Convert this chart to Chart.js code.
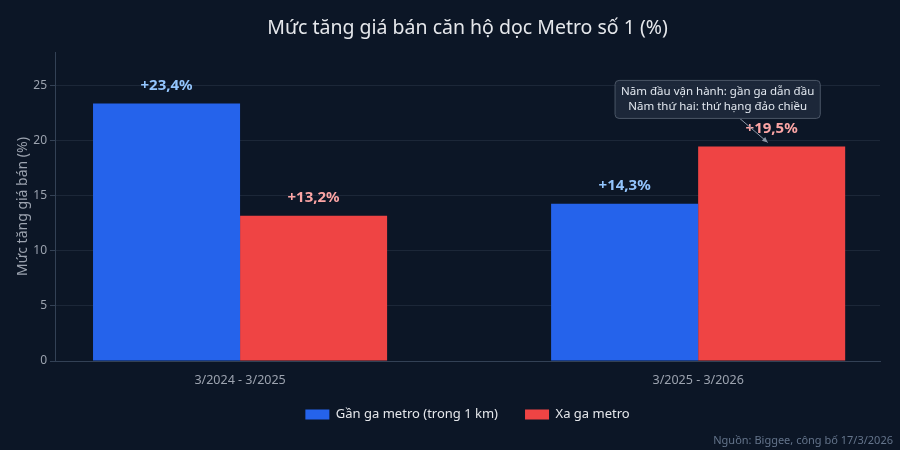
<!DOCTYPE html>
<html lang="vi">
<head>
<meta charset="utf-8">
<title>Mức tăng giá bán căn hộ dọc Metro số 1</title>
<script src="https://cdn.jsdelivr.net/npm/chart.js@4.4.1/dist/chart.umd.min.js"></script>
<style>
  html, body { margin: 0; padding: 0; background: #0c1626; }
  #wrap { width: 900px; height: 450px; position: relative; }
</style>
</head>
<body>
<div id="wrap"><canvas id="chart"></canvas></div>
<script>
// ===== dữ liệu =====
const categories = ['3/2024 - 3/2025', '3/2025 - 3/2026'];
const nearValues = [23.4, 14.3];
const farValues = [13.2, 19.5];
const seriesNames = ['Gần ga metro (trong 1 km)', 'Xa ga metro'];
const yTicks = [0, 5, 10, 15, 20, 25];
const yMax = 28.08;

const titleText = 'Mức tăng giá bán căn hộ dọc Metro số 1 (%)';
const yTitle = 'Mức tăng giá bán (%)';
const sourceText = 'Nguồn: Biggee, công bố 17/3/2026';
const noteLines = ['Năm đầu vận hành: gần ga dẫn đầu', 'Năm thứ hai: thứ hạng đảo chiều'];

const FONT = '"Noto Sans", "Open Sans", sans-serif';
const blue = '#2563eb', red = '#ef4444';
const labelColors = ['#93c5fd', '#fca5a5'];

function fmt(v) {
    return '+' + v.toFixed(1).replace('.', ',') + '%';
}

// tiêu đề, nhãn giá trị, ghi chú, nguồn
const decorPlugin = {
    id: 'decor',
    afterLayout(chart) {
        // căn legend theo vùng vẽ như bản gốc
        const lg = chart.legend;
        const a = chart.chartArea;
        const shift = (a.left + a.right) / 2 - (lg.left + lg.right) / 2;
        lg.left += shift;
        lg.right += shift;
        const h = lg.bottom - lg.top;
        lg.top = 381;
        lg.bottom = lg.top + h;
    },
    afterDatasetsDraw(chart) {
        const ctx = chart.ctx;
        const a = chart.chartArea;
        ctx.save();

        // tiêu đề
        ctx.fillStyle = '#e5e7eb';
        ctx.font = '19.5px ' + FONT;
        ctx.textAlign = 'center';
        ctx.textBaseline = 'middle';
        ctx.fillText(titleText, (a.left + a.right) / 2, 28);

        // nhãn giá trị
        ctx.font = 'bold 15px ' + FONT;
        chart.data.datasets.forEach((ds, i) => {
            const meta = chart.getDatasetMeta(i);
            ctx.fillStyle = labelColors[i];
            meta.data.forEach((el, j) => {
                ctx.fillText(fmt(ds.data[j].y), el.x, el.y - 18);
            });
        });

        // ghi chú có mũi tên
        const target = chart.getDatasetMeta(1).data[1];
        const tipX = target.x - 4, tipY = target.y - 4;
        const cx = target.x - 54, cy = target.y - 47;
        ctx.font = '11.5px ' + FONT;
        const w = Math.max(...noteLines.map(t => ctx.measureText(t).width)) + 12;
        const hgt = 38;
        const bx = cx - w / 2, by = cy - hgt / 2;

        // mũi tên từ mép hộp tới cột
        const ty = by + hgt;
        const tx = cx + (tipX - cx) * ((ty - cy) / (tipY - cy));
        ctx.strokeStyle = '#8b95a5';
        ctx.lineWidth = 1;
        ctx.beginPath();
        ctx.moveTo(tx, ty);
        ctx.lineTo(tipX, tipY);
        ctx.stroke();
        const ang = Math.atan2(tipY - ty, tipX - tx);
        ctx.fillStyle = '#8b95a5';
        ctx.beginPath();
        ctx.moveTo(tipX, tipY);
        ctx.lineTo(tipX - 6 * Math.cos(ang - 0.45), tipY - 6 * Math.sin(ang - 0.45));
        ctx.lineTo(tipX - 6 * Math.cos(ang + 0.45), tipY - 6 * Math.sin(ang + 0.45));
        ctx.closePath();
        ctx.fill();

        ctx.fillStyle = 'rgba(30, 41, 59, 0.92)';
        ctx.strokeStyle = '#4b5667';
        ctx.beginPath();
        ctx.roundRect(bx, by, w, hgt, 4);
        ctx.fill();
        ctx.stroke();
        ctx.fillStyle = '#e2e8f0';
        ctx.fillText(noteLines[0], cx, cy - 7.5);
        ctx.fillText(noteLines[1], cx, cy + 7.5);

        // nguồn
        ctx.font = '11px ' + FONT;
        ctx.fillStyle = '#64748b';
        ctx.textAlign = 'right';
        ctx.fillText(sourceText, 893, 441);
        ctx.restore();
    }
};

new Chart(document.getElementById('chart'), {
    type: 'bar',
    data: {
        datasets: [
            { label: seriesNames[0], data: nearValues.map((v, i) => ({ x: i, y: v })), backgroundColor: blue },
            { label: seriesNames[1], data: farValues.map((v, i) => ({ x: i, y: v })), backgroundColor: red }
        ]
    },
    options: {
        responsive: true,
        maintainAspectRatio: false,
        animation: false,
        categoryPercentage: 0.642,
        barPercentage: 1.0,
        layout: { padding: { left: 0, right: 20, top: 52, bottom: 7 } },
        plugins: {
            title: { display: false },
            tooltip: { enabled: false },
            legend: {
                position: 'bottom',
                labels: {
                    color: '#e5e7eb',
                    font: { family: FONT, size: 13 },
                    boxWidth: 24,
                    boxHeight: 10,
                    padding: 27
                }
            }
        },
        scales: {
            x: {
                type: 'linear',
                min: -0.404,
                max: 1.397,
                offset: false,
                afterBuildTicks(scale) { scale.ticks = categories.map((c, i) => ({ value: i })); },
                afterFit(scale) { scale.height = 32; },
                grid: { display: false, offset: false },
                border: { display: true, color: '#334155' },
                ticks: {
                    color: '#9ca3af',
                    font: { family: FONT, size: 12.5 },
                    padding: 4,
                    callback: v => categories[v]
                }
            },
            y: {
                min: 0,
                max: yMax,
                afterBuildTicks(scale) { scale.ticks = yTicks.map(v => ({ value: v })); },
                afterFit(scale) { scale.width = 55; },
                grid: { color: '#1c2738', tickColor: '#334155', tickLength: 5, drawTicks: true },
                border: { display: true, color: '#334155' },
                ticks: { color: '#9ca3af', font: { family: FONT, size: 12 }, padding: 3 },
                title: {
                    display: true,
                    text: yTitle,
                    color: '#9ca3af',
                    font: { family: FONT, size: 14 },
                    padding: 15
                }
            }
        }
    },
    plugins: [decorPlugin]
});
</script>
</body>
</html>
